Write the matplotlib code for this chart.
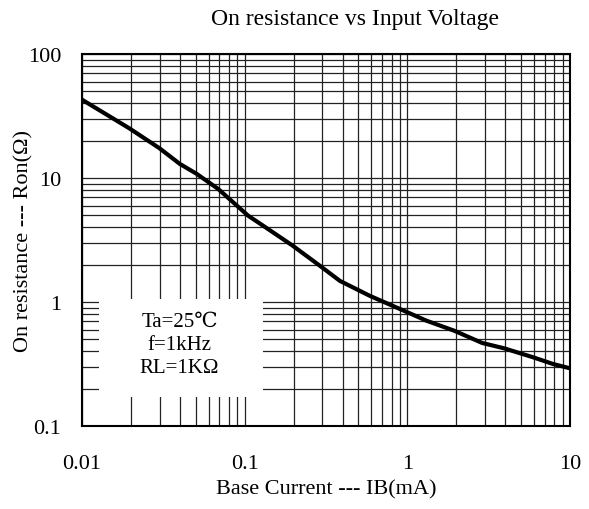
import matplotlib
matplotlib.use('Agg')
import matplotlib.pyplot as plt
from matplotlib.ticker import LogLocator, NullFormatter, FixedLocator, FixedFormatter
from matplotlib.patches import Rectangle

plt.rcParams['font.family'] = ['Liberation Serif', 'DejaVu Serif', 'Noto Sans CJK TC']

# curve
ib = [0.01, 0.0195, 0.0299, 0.04, 0.0507, 0.0688, 0.105, 0.130, 0.197, 0.293,
      0.385, 0.589, 0.901, 1.31, 1.94, 2.89, 3.94, 5.94, 7.88, 10.0]
ron = [42.8, 25.2, 17.4, 12.97, 10.8, 8.15, 4.97, 4.12, 2.85, 1.94,
       1.48, 1.12, 0.878, 0.707, 0.587, 0.467, 0.423, 0.358, 0.316, 0.292]

x_ticks = [0.01, 0.1, 1, 10]
x_labels = ['0.01', '0.1', '1', '10']
y_ticks = [0.1, 1, 10, 100]
y_labels = ['0.1', '1', '10', '100']

fig = plt.figure(figsize=(5.89, 5.10), dpi=100)
ax = fig.add_axes([82 / 589, 83 / 510, 488 / 589, 372 / 510])
ax.set_xscale('log')
ax.set_yscale('log')
ax.set_xlim(0.01, 10)
ax.set_ylim(0.1, 100)

ax.xaxis.set_major_locator(FixedLocator(x_ticks))
ax.xaxis.set_major_formatter(FixedFormatter(x_labels))
ax.yaxis.set_major_locator(FixedLocator(y_ticks))
ax.yaxis.set_major_formatter(FixedFormatter(y_labels))
ax.xaxis.set_minor_locator(LogLocator(base=10, subs=range(2, 10), numticks=20))
ax.yaxis.set_minor_locator(LogLocator(base=10, subs=range(2, 10), numticks=20))
ax.xaxis.set_minor_formatter(NullFormatter())
ax.yaxis.set_minor_formatter(NullFormatter())

ax.grid(True, which='both', color='#222222', linewidth=0.9, zorder=1)
ax.tick_params(which='both', length=0, labelsize=16)
ax.tick_params(axis='x', pad=20)
ax.tick_params(axis='y', pad=15)
for s in ax.spines.values():
    s.set_linewidth(1.5)

ax.plot(ib, ron, color='black', linewidth=3, zorder=3)

# white box with the test conditions
ax.add_patch(Rectangle((0.035, 0.078), 0.336, 0.263, transform=ax.transAxes,
                       facecolor='white', edgecolor='none', zorder=2))
ax.text(0.2, 0.219, 'Ta=25℃\nf=1kHz\nRL=1KΩ', transform=ax.transAxes,
        ha='center', va='center', fontsize=15, linespacing=1.3, zorder=4)

ax.set_xlabel('Base Current --- IB(mA)', fontsize=16, va='center')
ax.xaxis.set_label_coords(0.5, -0.168)
ax.set_ylabel('On resistance --- Ron(Ω)', fontsize=16, va='center')
ax.yaxis.set_label_coords(-0.119, 0.5)
fig.text(355 / 589, 1 - 20 / 510, 'On resistance vs Input Voltage',
         ha='center', va='center', fontsize=17)

fig.savefig('out.png', dpi=100)
